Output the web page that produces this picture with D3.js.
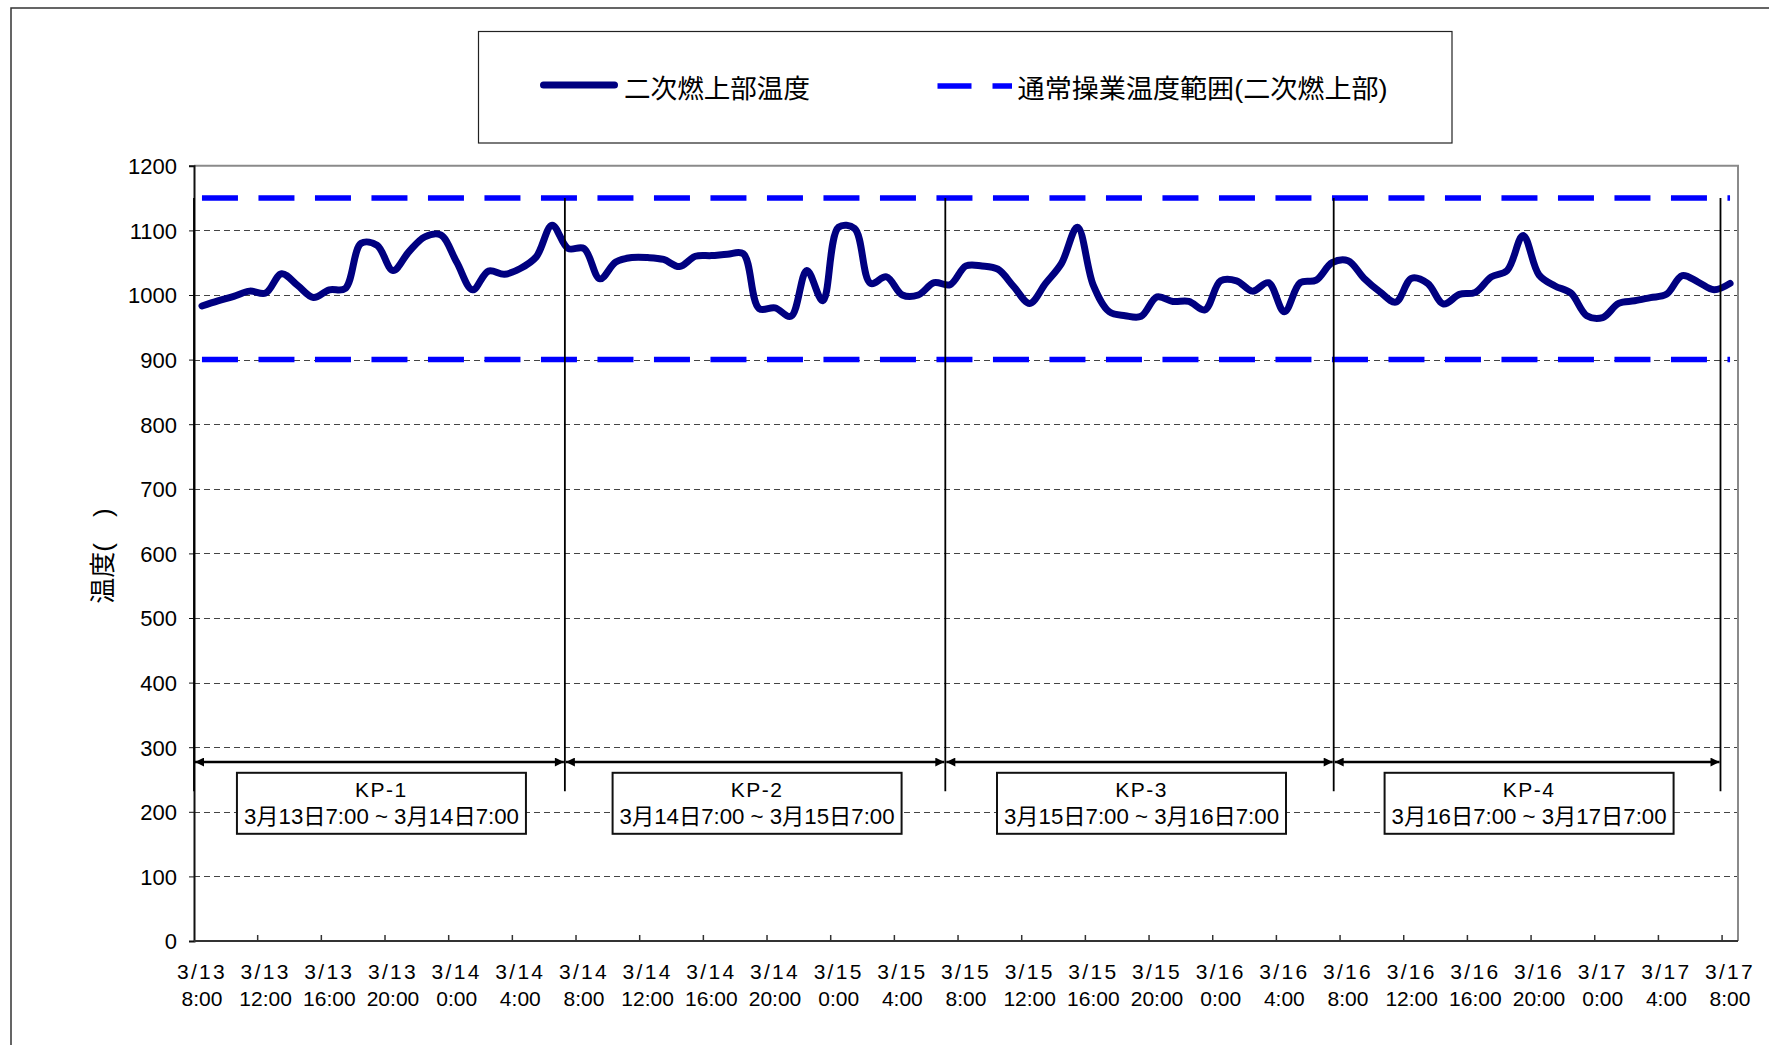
<!DOCTYPE html>
<html><head><meta charset="utf-8">
<script src="https://cdn.jsdelivr.net/npm/d3@7"></script>
<style>body{margin:0;background:#fff}</style>
</head><body>
<svg id="c" width="1769" height="1045"></svg>
<script>
// ---- data ----
const seriesName = "二次燃上部温度";
const rangeName = "通常操業温度範囲(二次燃上部)";
// hourly readings, 3/13 8:00 ... 3/17 8:00
const temps = [
  983, 991, 998,1006,1003,1033,1015, 996,1008,1010,
 1080,1077,1038,1067,1090,1093,1051,1008,1037,1032,
 1041,1059,1108,1072,1072,1025,1051,1058,1058,1055,
 1044,1060,1061,1063,1064, 979, 980, 967,1038, 991,
 1105,1103,1018,1028,1000,1000,1019,1016,1045,1045,
 1040,1013, 987,1018,1049,1105,1015, 974, 968, 967,
  997, 990, 990, 977,1022,1022,1006,1019, 974,1019,
 1023,1050,1053,1026,1005, 989,1026,1018, 986,1001,
 1004,1028,1038,1092,1031,1014,1003, 968, 965, 987,
  991, 996,1001,1030,1020,1008,1018];
const rangeLimits = [900, 1150];
const yTicks = [0,100,200,300,400,500,600,700,800,900,1000,1100,1200];
const tickDates = ["3/13","3/13","3/13","3/13","3/14","3/14","3/14","3/14","3/14","3/14",
  "3/15","3/15","3/15","3/15","3/15","3/15","3/16","3/16","3/16","3/16","3/16","3/16",
  "3/17","3/17","3/17"];
const tickTimes = ["8:00","12:00","16:00","20:00","0:00","4:00","8:00","12:00","16:00","20:00",
  "0:00","4:00","8:00","12:00","16:00","20:00","0:00","4:00","8:00","12:00","16:00","20:00",
  "0:00","4:00","8:00"];
const tickEvery = 4;
const kpNames = ["KP-1","KP-2","KP-3","KP-4"];
const kpRanges = ["3月13日7:00 ~ 3月14日7:00","3月14日7:00 ~ 3月15日7:00",
  "3月15日7:00 ~ 3月16日7:00","3月16日7:00 ~ 3月17日7:00"];
const kpBounds = [-0.5, 22.8, 46.7, 71.1, 95.4]; // in hours from 3/13 8:00
const kpTop = 1150, kpBottom = 232, kpArrowLevel = 277;
const yTitle = "温度(　)";

// ---- layout ----
const svg = d3.select("#c");
const L = 194, R = 1738, T = 165.8, B = 941;
const x = d3.scaleLinear().domain([-0.5, temps.length - 0.5]).range([L, R]);
const y = d3.scaleLinear().domain([0, 1200]).range([B, T]);
const FONT = "'Liberation Sans', Arial, 'Noto Sans CJK JP', sans-serif";

// outer frame
svg.append("rect").attr("x", 11).attr("y", 8).attr("width", 1850).attr("height", 1100)
  .attr("fill", "none").attr("stroke", "#333").attr("stroke-width", 1.5);

// legend
svg.append("rect").attr("x", 478.5).attr("y", 31.5).attr("width", 973.5).attr("height", 111.5)
  .attr("fill", "#fff").attr("stroke", "#222").attr("stroke-width", 1.2);
svg.append("line").attr("x1", 543.5).attr("x2", 614.5).attr("y1", 85).attr("y2", 85)
  .attr("stroke", "#000080").attr("stroke-width", 7).attr("stroke-linecap", "round");
svg.append("text").attr("x", 624).attr("y", 97.5).text(seriesName)
  .attr("font-family", FONT).attr("font-size", 26).attr("fill", "#000")
  .attr("textLength", 186).attr("lengthAdjust", "spacingAndGlyphs");
svg.append("line").attr("x1", 937.5).attr("x2", 1012).attr("y1", 86).attr("y2", 86)
  .attr("stroke", "#0000ff").attr("stroke-width", 5.5).attr("stroke-dasharray", "34,21");
svg.append("text").attr("x", 1017.6).attr("y", 97.5).text(rangeName)
  .attr("font-family", FONT).attr("font-size", 26).attr("fill", "#000")
  .attr("textLength", 370).attr("lengthAdjust", "spacingAndGlyphs");

// gridlines
svg.append("g").selectAll("line").data(yTicks.filter(v => v > 0 && v < 1200)).join("line")
  .attr("x1", L).attr("x2", R).attr("y1", d => Math.round(y(d)) + 0.5).attr("y2", d => Math.round(y(d)) + 0.5)
  .attr("stroke", "#444").attr("stroke-width", 1).attr("stroke-dasharray", "6,4");

// plot border (top/right)
svg.append("path").attr("d", `M${L},${T}H${R}V${B}`).attr("fill", "none")
  .attr("stroke", "#8a8a8a").attr("stroke-width", 2);

// operating range lines
svg.append("g").selectAll("line").data(rangeLimits).join("line")
  .attr("x1", x(0)).attr("x2", x(temps.length - 1))
  .attr("y1", d => y(d)).attr("y2", d => y(d))
  .attr("stroke", "#0000ff").attr("stroke-width", 5.5).attr("stroke-dasharray", "36,20.5");

// data line
const line = d3.line().x((d, i) => x(i)).y(d => y(d)).curve(d3.curveCatmullRom.alpha(0.5));
svg.append("path").datum(temps).attr("d", line).attr("fill", "none")
  .attr("stroke", "#000080").attr("stroke-width", 7)
  .attr("stroke-linejoin", "round").attr("stroke-linecap", "round");

// axes
const yAxis = d3.axisLeft(y).tickValues(yTicks).tickSize(5).tickFormat(d3.format("d"));
const gy = svg.append("g").attr("transform", `translate(${L},0)`).call(yAxis);
gy.select(".domain").attr("stroke", "#111").attr("stroke-width", 2);
gy.selectAll(".tick line").attr("stroke", "#111");
gy.selectAll(".tick text").attr("font-family", FONT).attr("font-size", 22).attr("fill", "#000")
  .attr("x", -17).attr("dy", "0.36em");

const xg = svg.append("g");
xg.append("line").attr("x1", L).attr("x2", R).attr("y1", B).attr("y2", B)
  .attr("stroke", "#333").attr("stroke-width", 2);
const tickIdx = tickDates.map((d, k) => k * tickEvery);
xg.selectAll("line.tk").data(tickIdx.slice(1)).join("line").attr("class", "tk")
  .attr("x1", d => x(d - 0.5)).attr("x2", d => x(d - 0.5)).attr("y1", B).attr("y2", B - 6)
  .attr("stroke", "#333").attr("stroke-width", 1.5);
const xl = xg.selectAll("g.lb").data(tickIdx).join("g").attr("class", "lb")
  .attr("transform", d => `translate(${x(d)},0)`);
xl.append("text").attr("y", 978.6).attr("text-anchor", "middle").text((d, k) => tickDates[k])
  .attr("font-family", FONT).attr("font-size", 21).attr("letter-spacing", 2.3);
xl.append("text").attr("y", 1006).attr("text-anchor", "middle").text((d, k) => tickTimes[k])
  .attr("font-family", FONT).attr("font-size", 21);

// y title
svg.append("text").attr("transform", "translate(103,556) rotate(-90)")
  .attr("text-anchor", "middle").attr("dominant-baseline", "central")
  .attr("font-family", FONT).attr("font-size", 26).text(yTitle);

// KP annotations
const defs = svg.append("defs");
defs.append("marker").attr("id", "arr").attr("viewBox", "0 0 10 10")
  .attr("refX", 10).attr("refY", 5).attr("markerWidth", 10).attr("markerHeight", 9)
  .attr("markerUnits", "userSpaceOnUse").attr("orient", "auto-start-reverse")
  .append("path").attr("d", "M0,0L10,5L0,10Z").attr("fill", "#000");

const kp = svg.append("g");
kp.selectAll("line.v").data(kpBounds).join("line").attr("class", "v")
  .attr("x1", d => x(d)).attr("x2", d => x(d)).attr("y1", y(kpTop)).attr("y2", y(kpBottom))
  .attr("stroke", "#000").attr("stroke-width", 1.8);
const segs = kpNames.map((n, i) => ({ name: n, range: kpRanges[i], a: kpBounds[i], b: kpBounds[i + 1] }));
kp.selectAll("line.h").data(segs).join("line").attr("class", "h")
  .attr("x1", d => x(d.a) + 1).attr("x2", d => x(d.b) - 1)
  .attr("y1", y(kpArrowLevel)).attr("y2", y(kpArrowLevel))
  .attr("stroke", "#000").attr("stroke-width", 2.6)
  .attr("marker-start", "url(#arr)").attr("marker-end", "url(#arr)");
const bw = 289, bh = 61, btop = 772.8;
const box = kp.selectAll("g.box").data(segs).join("g").attr("class", "box")
  .attr("transform", d => `translate(${(x(d.a) + x(d.b)) / 2 + 2},0)`);
box.append("rect").attr("x", -bw / 2).attr("y", btop).attr("width", bw).attr("height", bh)
  .attr("fill", "#fff").attr("stroke", "#111").attr("stroke-width", 2);
box.append("text").attr("y", 797.3).attr("text-anchor", "middle").text(d => d.name)
  .attr("font-family", FONT).attr("font-size", 21).attr("letter-spacing", 1.5);
box.append("text").attr("y", 823.5).attr("text-anchor", "middle").text(d => d.range)
  .attr("font-family", FONT).attr("font-size", 22)
  .attr("textLength", 275).attr("lengthAdjust", "spacingAndGlyphs");
</script>
</body></html>
